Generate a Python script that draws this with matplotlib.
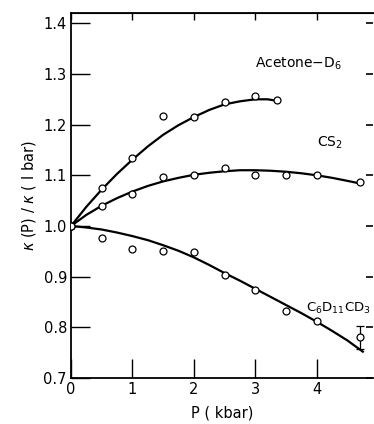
import matplotlib.pyplot as plt

# measured points
p_acetone = [0.0, 0.5, 1.0, 1.5, 2.0, 2.5, 3.0, 3.35]
k_acetone = [1.0, 1.075, 1.134, 1.217, 1.216, 1.245, 1.256, 1.248]

p_cs2 = [0.0, 0.5, 1.0, 1.5, 2.0, 2.5, 3.0, 3.5, 4.0, 4.7]
k_cs2 = [1.0, 1.039, 1.063, 1.096, 1.100, 1.114, 1.100, 1.100, 1.100, 1.086]

p_c6 = [0.0, 0.5, 1.0, 1.5, 2.0, 2.5, 3.0, 3.5, 4.0]
k_c6 = [1.0, 0.977, 0.955, 0.950, 0.948, 0.903, 0.874, 0.833, 0.813]
p_c6_err = [4.7]
k_c6_err = [0.780]
err_c6 = [0.022]

# smooth guide curves
pc_acetone = [0.0, 0.25, 0.5, 0.75, 1.0, 1.25, 1.5, 1.75, 2.0, 2.25, 2.5, 2.75, 3.0, 3.2, 3.35]
kc_acetone = [1.0, 1.038, 1.072, 1.103, 1.131, 1.157, 1.180, 1.199, 1.215, 1.229, 1.240, 1.246, 1.250, 1.250, 1.247]

pc_cs2 = [0.0, 0.25, 0.5, 0.75, 1.0, 1.25, 1.5, 1.75, 2.0, 2.25, 2.5, 2.75, 3.0, 3.25,
          3.5, 3.75, 4.0, 4.25, 4.5, 4.7]
kc_cs2 = [1.0, 1.022, 1.040, 1.055, 1.068, 1.079, 1.088, 1.095, 1.101, 1.105, 1.108, 1.110,
          1.110, 1.109, 1.107, 1.104, 1.100, 1.095, 1.089, 1.084]

pc_c6 = [0.0, 0.25, 0.5, 0.75, 1.0, 1.25, 1.5, 1.75, 2.0, 2.25, 2.5, 2.75, 3.0, 3.25,
         3.5, 3.75, 4.0, 4.25, 4.5, 4.75]
kc_c6 = [1.0, 0.997, 0.993, 0.987, 0.980, 0.972, 0.962, 0.951, 0.938, 0.923, 0.907, 0.892,
         0.876, 0.860, 0.844, 0.828, 0.811, 0.793, 0.774, 0.752]

xticks = [0, 1, 2, 3, 4]
yticks = [0.7, 0.8, 0.9, 1.0, 1.1, 1.2, 1.3, 1.4]

fig = plt.figure(figsize=(3.74, 4.24), dpi=100)
ax = fig.add_axes([0.19, 0.1085, 0.808, 0.8605])

mk = dict(marker='o', ms=5, mfc='white', mec='black', mew=0.9, ls='none', zorder=3)
for pc, kc in [(pc_acetone, kc_acetone), (pc_cs2, kc_cs2), (pc_c6, kc_c6)]:
    ax.plot(pc, kc, color='black', lw=1.6)
ax.plot(p_acetone, k_acetone, **mk)
ax.plot(p_cs2, k_cs2, **mk)
ax.plot(p_c6, k_c6, **mk)
ax.errorbar(p_c6_err, k_c6_err, yerr=err_c6, fmt='o', ms=5, mfc='white', mec='black',
            mew=0.9, ecolor='black', elinewidth=0.9, capsize=3, capthick=0.9, zorder=3)

ax.set_xlim(0, 4.92)
ax.set_ylim(0.7, 1.42)
ax.set_xticks(xticks)
ax.set_yticks(yticks)
ax.set_yticklabels(['0.7', '0.8', '0.9', '1.0', '1.1', '1.2', '1.3', '1.4'])
ax.tick_params(axis='both', direction='in', length=14, width=1, labelsize=10.5, pad=3)
for s in ax.spines.values():
    s.set_linewidth(1.3)
ax.spines['right'].set_visible(False)

# short ticks on top and right
top = ax.secondary_xaxis('top')
top.set_xticks(xticks)
top.tick_params(direction='in', length=5, width=1, labeltop=False)
right = ax.secondary_yaxis('right')
right.set_yticks(yticks)
right.tick_params(direction='in', length=5, width=1.2, labelright=False)
right.spines['right'].set_visible(False)

ax.text(3.0, 1.32, 'Acetone$-$D$_6$', fontsize=10, ha='left', va='center')
ax.text(4.0, 1.165, 'CS$_2$', fontsize=10, ha='left', va='center')
ax.text(3.82, 0.837, 'C$_6$D$_{11}$CD$_3$', fontsize=9.5, ha='left', va='center')

ax.set_xlabel('P ( kbar)', fontsize=10.5, labelpad=6)
ax.set_ylabel(r'$\kappa$ (P) / $\kappa$ ( I bar)', fontsize=10.5, labelpad=4)

fig.savefig('out.png', dpi=100)
